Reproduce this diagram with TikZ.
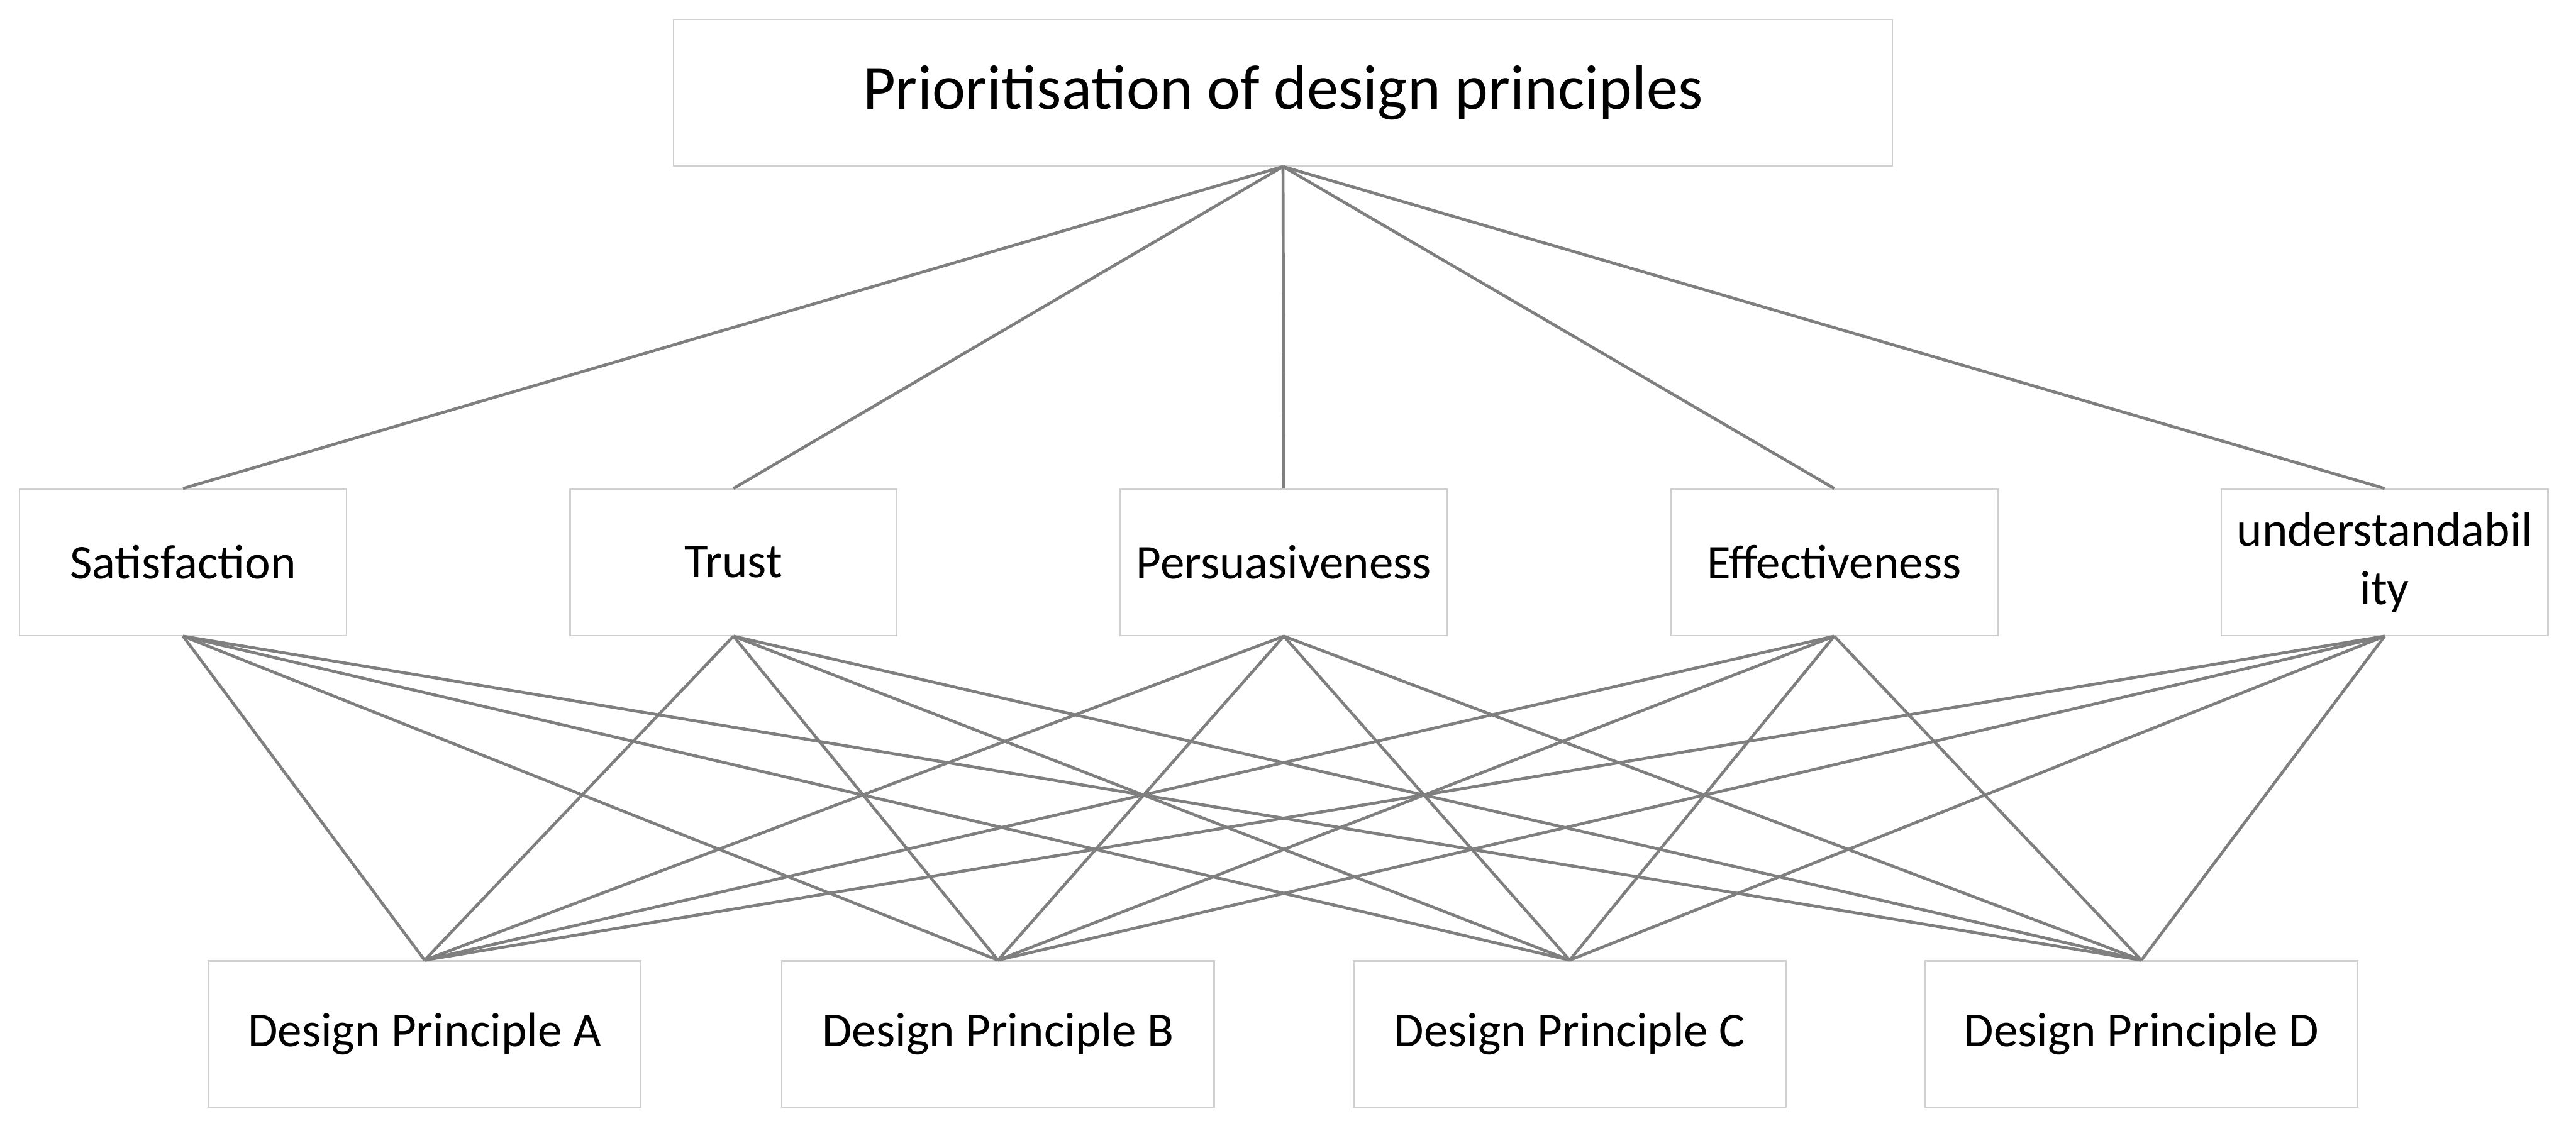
\documentclass[tikz,border=0pt]{standalone}
\usepackage{fontspec}
\setmainfont{Carlito}
\usetikzlibrary{positioning}
\definecolor{ahpline}{HTML}{7F7F7F}
\definecolor{ahpedge}{HTML}{D0D0D0}
\tikzset{
  box/.style     ={draw=ahpedge, line width=1pt, fill=white, inner sep=0pt,
                   minimum height=35mm, align=center},
  goalbox/.style ={box, minimum width=291.7mm, font=\fontsize{43}{52}\selectfont},
  critbox/.style ={box, minimum width=78.2mm, font=\fontsize{33}{40}\selectfont},
  altbox/.style  ={box, minimum width=103.4mm, font=\fontsize{33}{40}\selectfont},
  link/.style    ={draw=ahpline, line width=2pt},
}
\begin{document}
\begin{tikzpicture}
  \useasboundingbox (0,0) rectangle (61.64,26.95);
  % goal
  \node[goalbox] (goal) at (30.70,24.73) {Prioritisation of design principles};
  % criteria
  \foreach \n/\x/\t in {sat/4.38/Satisfaction, tru/17.55/Trust,
                        per/30.72/Persuasiveness, eff/43.89/Effectiveness,
                        und/57.06/{understandabil\\ity}}
    \node[critbox] (\n) at (\x,13.49) {\t};
  % alternatives
  \foreach \n/\x/\t in {dpa/10.16/A, dpb/23.88/B, dpc/37.56/C, dpd/51.24/D}
    \node[altbox] (\n) at (\x,2.20) {Design Principle \t};
  % connectors
  \foreach \c in {sat,tru,per,eff,und}{
    \draw[link] (goal.south) -- (\c.north);
    \foreach \a in {dpa,dpb,dpc,dpd}
      \draw[link] (\c.south) -- (\a.north);
  }
\end{tikzpicture}
\end{document}
